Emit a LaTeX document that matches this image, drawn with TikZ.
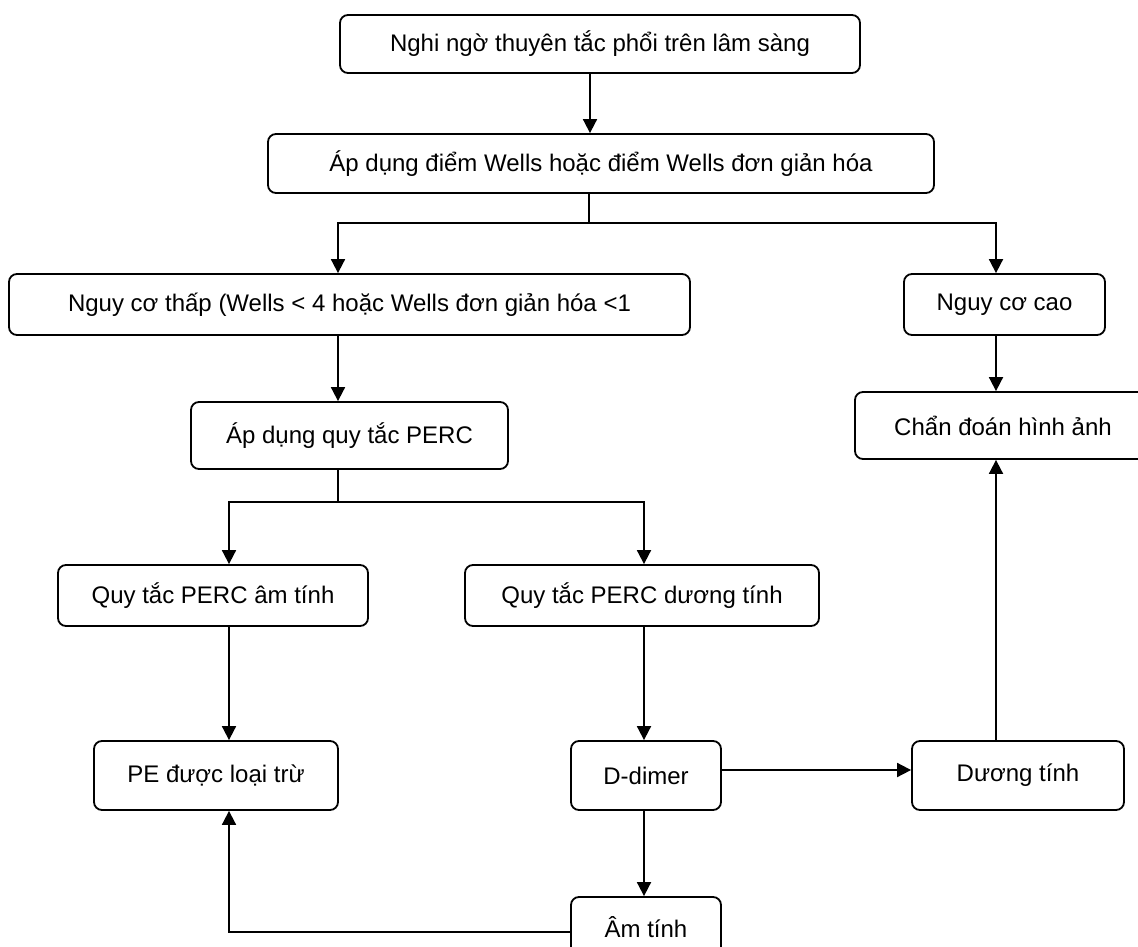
\documentclass[tikz,border=0pt]{standalone}
\usepackage{fontspec}
\setmainfont{Liberation Sans}
\usetikzlibrary{arrows.meta}
\tikzset{
  box/.style={draw, line width=1.8pt, rounded corners=8pt, inner sep=0pt,
    font=\fontsize{24}{28}\selectfont, align=center},
  conn/.style={line width=1.8pt},
  arr/.style={conn, -{Triangle[length=14pt,width=14pt]}},
}
\begin{document}
\begin{tikzpicture}[x=1pt,y=-1pt]
\useasboundingbox (0,0) rectangle (1138,947);
\clip (0,0) rectangle (1138,947);
\fill[white] (0,0) rectangle (1138,947);

\node[box, minimum width=520pt, minimum height=58pt] (n1) at (600,44) {Nghi ngờ thuyên tắc phổi trên lâm sàng};
\node[box, minimum width=666pt, minimum height=59pt] (n2) at (601,163.5) {Áp dụng điểm Wells hoặc điểm Wells đơn giản hóa};
\node[box, minimum width=681pt, minimum height=61pt] (n3) at (349.5,304.5) {Nguy cơ thấp (Wells < 4 hoặc Wells đơn giản hóa <1};
\node[box, minimum width=201pt, minimum height=61pt] (n4) at (1004.5,304.5) {Nguy cơ cao};
\node[box, minimum width=317pt, minimum height=67pt] (n5) at (349.5,435.5) {Áp dụng quy tắc PERC};
\node[box, minimum width=296pt, minimum height=67pt] (n6) at (1003,425.5) {Chẩn đoán hình ảnh};
\node[box, minimum width=310pt, minimum height=61pt] (n7) at (213,595.5) {Quy tắc PERC âm tính};
\node[box, minimum width=354pt, minimum height=61pt] (n8) at (642,595.5) {Quy tắc PERC dương tính};
\node[box, minimum width=244pt, minimum height=69pt] (n9) at (216,775.5) {PE được loại trừ};
\node[box, minimum width=150pt, minimum height=69pt] (n10) at (646,775.5) {D-dimer};
\node[box, minimum width=212pt, minimum height=69pt] (n11) at (1018,775.5) {Dương tính};
\node[box, minimum width=150pt, minimum height=60pt] (n12) at (646,927) {Âm tính};

\coordinate (a1) at (590,0);
\coordinate (j1) at (589,223);
\coordinate (j1l) at (338,223);
\coordinate (j1r) at (996,223);
\coordinate (j2) at (338,502);
\coordinate (j2l) at (229,502);
\coordinate (j2r) at (644,502);
\coordinate (h1) at (0,770);
\coordinate (fb) at (229,932);

\draw[arr] (n1.south -| a1) -- (n2.north -| a1);
\draw[conn] (n2.south -| j1) -- (j1);
\draw[arr] (j1) -| (n3.north -| j1l);
\draw[arr] (j1) -| (n4.north -| j1r);
\draw[arr] (n3.south -| j1l) -- (n5.north -| j1l);
\draw[arr] (n4.south -| j1r) -- (n6.north -| j1r);
\draw[conn] (n5.south -| j2) -- (j2);
\draw[arr] (j2) -| (n7.north -| j2l);
\draw[arr] (j2) -| (n8.north -| j2r);
\draw[arr] (n7.south -| j2l) -- (n9.north -| j2l);
\draw[arr] (n8.south -| j2r) -- (n10.north -| j2r);
\draw[arr] (n10.east |- h1) -- (n11.west |- h1);
\draw[arr] (n11.north -| j1r) -- (n6.south -| j1r);
\draw[arr] (n10.south -| j2r) -- (n12.north -| j2r);
\draw[arr] (n12.west |- fb) -- (fb) -- (n9.south -| fb);
\end{tikzpicture}
\end{document}
